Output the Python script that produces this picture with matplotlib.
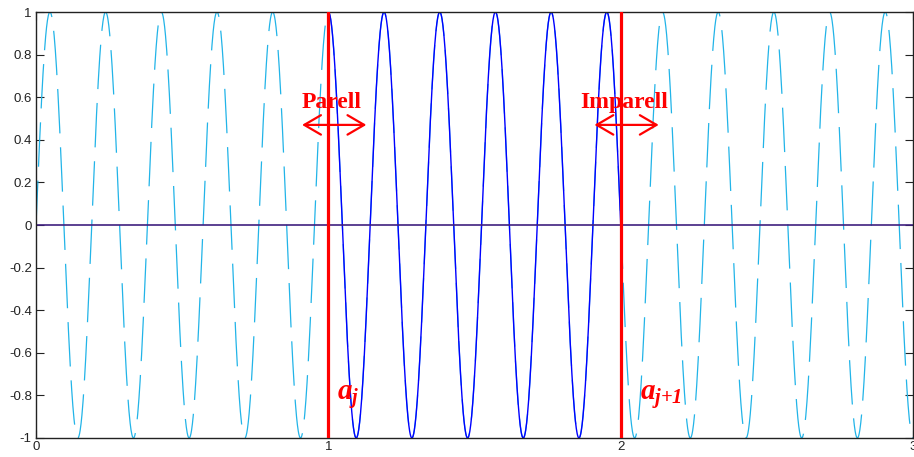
import numpy as np
import matplotlib
matplotlib.use("Agg")
import matplotlib.pyplot as plt
from matplotlib.patches import FancyArrowPatch

plt.rcParams['font.family'] = ['Liberation Sans', 'DejaVu Sans']
plt.rcParams['mathtext.fontset'] = 'custom'
plt.rcParams['mathtext.it'] = 'Liberation Serif:italic:bold'
plt.rcParams['mathtext.rm'] = 'Liberation Serif:italic:bold'
plt.rcParams['lines.scale_dashes'] = False

# Wave parameters: cycles per unit and the abscissa of the peak at the left node
cycles_per_unit = 5.25
peak_x = 1.0
full_range = [0.0, 3.0]
interval = [1.0, 2.0]          # a_j .. a_{j+1}
node_labels = [r'$a_j$', r'$a_{j\mathit{+1}}$']
node_label_offsets = [0.03, 0.065]
side_labels = ['Parell', 'Imparell']
x_ticks = [0, 1, 2, 3]
y_ticks = [1, 0.8, 0.6, 0.4, 0.2, 0, -0.2, -0.4, -0.6, -0.8, -1]
y_tick_labels = ['1', '0.8', '0.6', '0.4', '0.2', '0', '-0.2', '-0.4', '-0.6', '-0.8', '-1']


def wave(x):
    return np.cos(2 * np.pi * cycles_per_unit * (x - peak_x))


fig = plt.figure(figsize=(9.14, 4.57), dpi=100)
ax = fig.add_axes([0.0394, 0.0416, 0.9596, 0.9321])

x_all = np.linspace(full_range[0], full_range[1], 3001)
x_in = np.linspace(interval[0], interval[1], 1001)

ax.plot(x_all, wave(x_all), color='#22b4e8', lw=0.9, linestyle=(0, (32, 10)))
ax.plot(x_in, wave(x_in), color='#0000ff', lw=1.0)
ax.plot(full_range, [0, 0], color='#40207f', lw=1.2)

for xv in interval:
    ax.axvline(xv, color='#ff0000', lw=2.3, zorder=4)

# side labels with double arrows
arrow_half = 0.11
for xv, lab in zip(interval, side_labels):
    ax.text(xv + 0.012, 0.55, lab, color='#ff0000', fontsize=17,
            fontweight='bold', family='Liberation Serif', ha='center', va='baseline', zorder=5)
    arr = FancyArrowPatch((xv - arrow_half + 0.02, 0.47), (xv + arrow_half + 0.02, 0.47),
                          arrowstyle='<->,head_length=12,head_width=7',
                          mutation_scale=1, color='#ff0000', lw=1.6,
                          shrinkA=0, shrinkB=0, zorder=5)
    ax.add_patch(arr)

for xv, off, lab in zip(interval, node_label_offsets, node_labels):
    ax.text(xv + off, -0.82, lab, color='#ff0000', fontsize=21,
            ha='left', va='baseline', zorder=5)

ax.set_xlim(full_range)
ax.set_ylim(-1, 1)
ax.set_xticks(x_ticks)
ax.set_xticklabels([str(t) for t in x_ticks])
ax.set_yticks(y_ticks)
ax.set_yticklabels(y_tick_labels)
ax.tick_params(direction='in', length=6, width=0.8, labelsize=9.5,
               top=True, right=True, colors='#222222')
ax.tick_params(axis='y', pad=3)
ax.tick_params(axis='x', pad=2)
for s in ax.spines.values():
    s.set_linewidth(1.0)
    s.set_color('#222222')

fig.savefig('out.png', dpi=100)
